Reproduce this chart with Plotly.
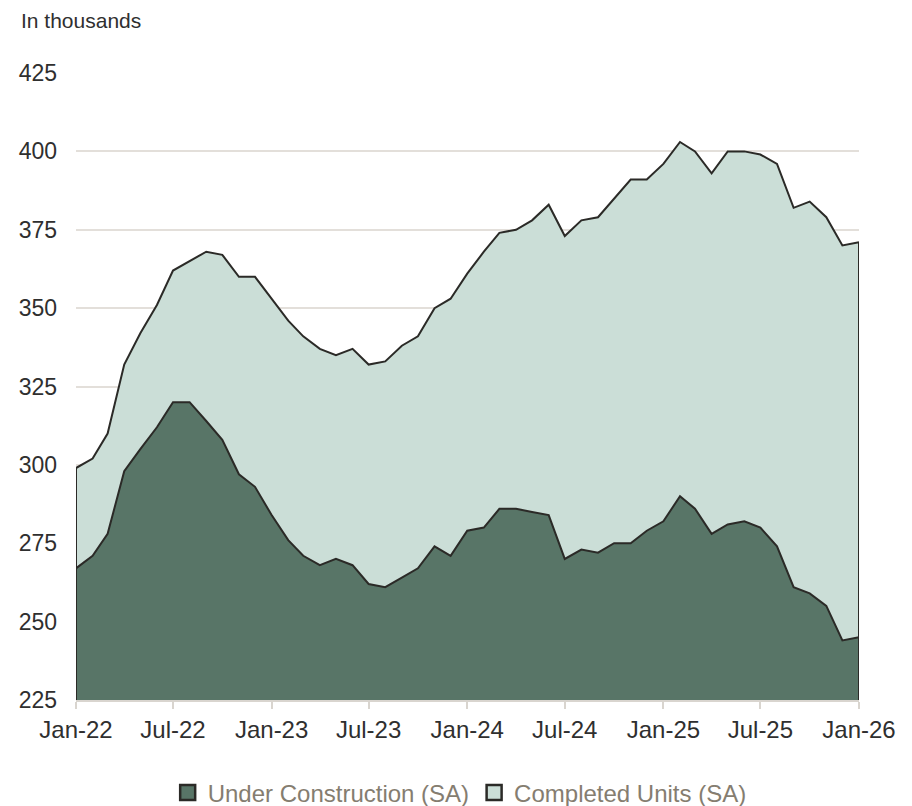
import pandas as pd
import plotly.graph_objects as go

# Monthly, Jan-2022 .. Jan-2026 (thousands, SA)
months = pd.date_range("2022-01-01", "2026-01-01", freq="MS")

under_construction = [267, 271, 278, 298, 305, 312, 320, 320, 314, 308, 297, 293,
                      284, 276, 271, 268, 270, 268, 262, 261, 264, 267, 274, 271,
                      279, 280, 286, 286, 285, 284, 270, 273, 272, 275, 275, 279,
                      282, 290, 286, 278, 281, 282, 280, 274, 261, 259, 255, 244,
                      245]

completed_units = [32, 31, 32, 34, 37, 39, 42, 45, 54, 59, 63, 67,
                   69, 70, 70, 69, 65, 69, 70, 72, 74, 74, 76, 82,
                   82, 88, 88, 89, 93, 99, 103, 105, 107, 110, 116, 112,
                   114, 113, 114, 115, 119, 118, 119, 122, 121, 125, 124, 126,
                   126]

series_names = ["Under Construction (SA)", "Completed Units (SA)"]
y_ticks = [225, 250, 275, 300, 325, 350, 375, 400, 425]
x_tick_dates = pd.date_range("2022-01-01", "2026-01-01", freq="6MS")
x_tick_labels = [d.strftime("%b-%y") for d in x_tick_dates]

FONT = "Liberation Sans, Arial, sans-serif"
DARK = "#587567"
LIGHT = "#cbded7"
EDGE = "#2b2a27"
TEXT = "#2f2f2f"

top = [u + c for u, c in zip(under_construction, completed_units)]

fig = go.Figure()
fig.add_trace(go.Scatter(
    x=months, y=under_construction, name=series_names[0],
    stackgroup="one", mode="lines", fillcolor=DARK,
    line=dict(color=EDGE, width=2), showlegend=False))
fig.add_trace(go.Scatter(
    x=months, y=completed_units, name=series_names[1],
    stackgroup="one", mode="lines", fillcolor=LIGHT,
    line=dict(color=EDGE, width=2), showlegend=False))
# closing vertical edges of the area outline
fig.add_trace(go.Scatter(
    x=[months[0], months[0], None, months[-1], months[-1]],
    y=[y_ticks[0], top[0], None, y_ticks[0], top[-1]],
    mode="lines", line=dict(color=EDGE, width=2),
    showlegend=False, hoverinfo="skip"))
# legend entries with square swatches
for name, col in zip(series_names, [DARK, LIGHT]):
    fig.add_trace(go.Scatter(
        x=[None], y=[None], name=name, mode="markers",
        marker=dict(symbol="square", size=15, color=col,
                    line=dict(color=EDGE, width=2.5))))

# page body has an 8px margin, so the figure is placed at (8,8)
fig.update_layout(
    width=904, height=798,
    margin=dict(l=68, r=53, t=65, b=106, autoexpand=False),
    paper_bgcolor="white", plot_bgcolor="white",
    font=dict(family=FONT, size=22, color=TEXT),
    showlegend=True,
    legend=dict(orientation="h", x=0.49, xanchor="center", y=-0.148, yanchor="middle",
                traceorder="normal",
                font=dict(family=FONT, size=24, color="#857d70"),
                itemwidth=30),
    annotations=[dict(text="In thousands", xref="paper", yref="paper",
                      x=-57 / 783, y=(627 + 53) / 627, xanchor="left", yanchor="middle",
                      showarrow=False, font=dict(family=FONT, size=21, color=TEXT))],
)
fig.update_xaxes(
    range=[months[0], months[-1]],
    tickmode="array", tickvals=x_tick_dates, ticktext=x_tick_labels,
    ticks="outside", ticklen=7, tickcolor="#d9d5cf", tickwidth=1.5,
    showline=True, linecolor="#d9d5cf", linewidth=1.5,
    showgrid=False, zeroline=False, automargin=False,
    tickfont=dict(family=FONT, size=24, color=TEXT),
)
fig.update_yaxes(
    range=[225, 425], tickmode="array", tickvals=y_ticks,
    showgrid=True, gridcolor="#e3dfda", gridwidth=1.5,
    zeroline=False, showline=False, ticks="", automargin=False,
    ticklabelstandoff=18,
    tickfont=dict(family=FONT, size=23, color=TEXT),
)

fig.write_html("out.html")
